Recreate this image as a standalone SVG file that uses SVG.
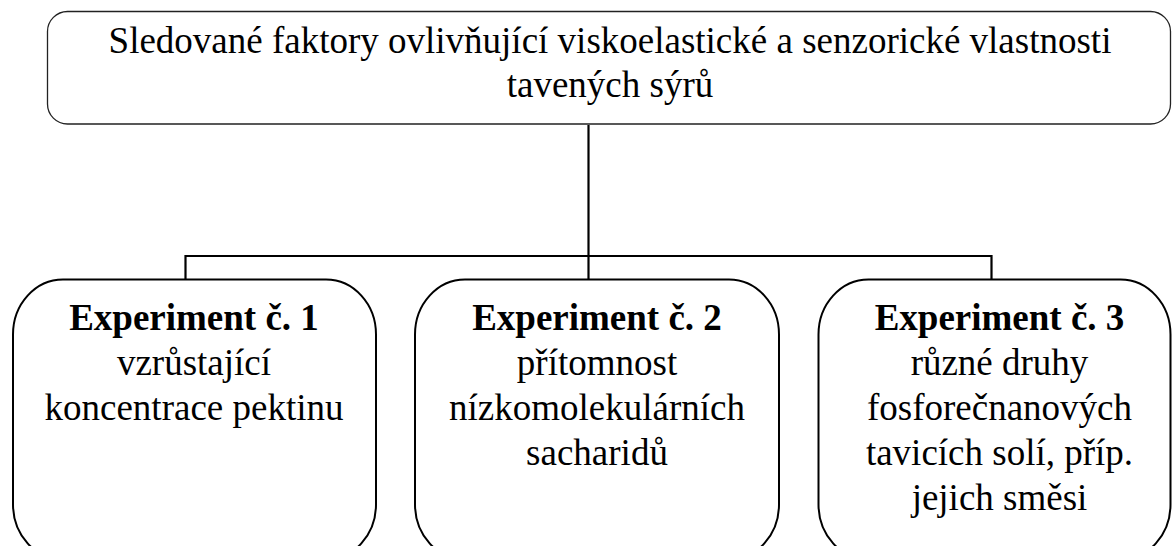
<svg xmlns="http://www.w3.org/2000/svg" width="1172" height="546" viewBox="0 0 1172 546">
<style>
text{font-family:"Liberation Serif","Times New Roman",serif;font-size:37px;fill:#000;text-anchor:middle}
.b{font-weight:bold}
.top{fill:#fff;stroke:#222;stroke-width:1.3}
.box{fill:#fff;stroke:#000;stroke-width:2}
.conn{fill:none;stroke:#000;stroke-width:2.2}
</style>
<rect width="1172" height="546" fill="#fff"/>
<g id="connectors">
<line class="conn" x1="588.5" y1="125" x2="588.5" y2="280"/>
<polyline class="conn" points="185.5,280 185.5,256 991.5,256 991.5,280"/>
</g>
<g id="root">
<rect class="top" x="47.5" y="11.5" width="1123" height="112.5" rx="20" ry="20"/>
<text x="610" y="52.5">Sledované faktory ovlivňující viskoelastické a senzorické vlastnosti</text>
<text x="610" y="96.5">tavených sýrů</text>
</g>
<g id="exp1">
<rect class="box" x="13" y="279.5" width="363" height="280" rx="50" ry="55"/>
<text class="b" x="194" y="330">Experiment č. 1</text>
<text x="194" y="375">vzrůstající</text>
<text x="194" y="420">koncentrace pektinu</text>
</g>
<g id="exp2">
<rect class="box" x="415" y="279.5" width="364" height="280" rx="50" ry="55"/>
<text class="b" x="597" y="330">Experiment č. 2</text>
<text x="597" y="375">přítomnost</text>
<text x="597" y="420">nízkomolekulárních</text>
<text x="597" y="465">sacharidů</text>
</g>
<g id="exp3">
<rect class="box" x="818.5" y="279.5" width="352" height="280" rx="50" ry="55"/>
<text class="b" x="999.5" y="330">Experiment č. 3</text>
<text x="999.5" y="375">různé druhy</text>
<text x="999.5" y="420">fosforečnanových</text>
<text x="999.5" y="465">tavicích solí, příp.</text>
<text x="999.5" y="510">jejich směsi</text>
</g>
</svg>
